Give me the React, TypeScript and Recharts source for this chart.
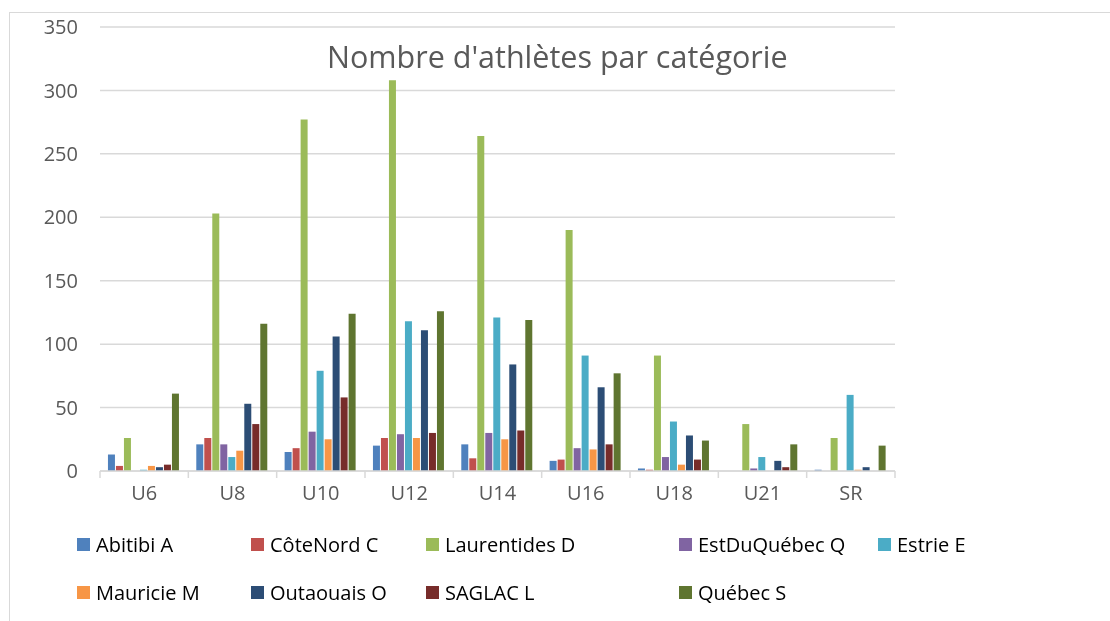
import React from "react";
import { BarChart, Bar, XAxis, YAxis, CartesianGrid } from "recharts";

const categories = ["U6", "U8", "U10", "U12", "U14", "U16", "U18", "U21", "SR"];
const yTicks = [0, 50, 100, 150, 200, 250, 300, 350];

const abitibi = [13, 21, 15, 20, 21, 8, 2, 0, 1];
const coteNord = [4, 26, 18, 26, 10, 9, 1, 0, 0];
const laurentides = [26, 203, 277, 308, 264, 190, 91, 37, 26];
const estDuQuebec = [0, 21, 31, 29, 30, 18, 11, 2, 0];
const estrie = [1, 11, 79, 118, 121, 91, 39, 11, 60];
const mauricie = [4, 16, 25, 26, 25, 17, 5, 0, 1];
const outaouais = [3, 53, 106, 111, 84, 66, 28, 8, 3];
const saglac = [5, 37, 58, 30, 32, 21, 9, 3, 0];
const quebec = [61, 116, 124, 126, 119, 77, 24, 21, 20];

const seriesNames = [
  "Abitibi A",
  "CôteNord C",
  "Laurentides D",
  "EstDuQuébec Q",
  "Estrie E",
  "Mauricie M",
  "Outaouais O",
  "SAGLAC L",
  "Québec S",
];
const seriesValues = [abitibi, coteNord, laurentides, estDuQuebec, estrie, mauricie, outaouais, saglac, quebec];
const seriesColors = ["#4F81BD", "#C0504D", "#9BBB59", "#8064A2", "#4BACC6", "#F79646", "#2C4D75", "#772C2A", "#5F7530"];

const title = "Nombre d'athlètes par catégorie";

const data = categories.map((c, i) => {
  const row: Record<string, string | number> = { cat: c };
  seriesNames.forEach((n, s) => {
    row[n] = seriesValues[s][i];
  });
  return row;
});

const FONT = "'Open Sans', sans-serif";
const CHART_W = 1102;
const CHART_H = 605;
const PLOT_LEFT = 92;
const PLOT_RIGHT = 887;
const BAND = (PLOT_RIGHT - PLOT_LEFT) / categories.length;

const XTick = (props: any) => {
  const { x, y, payload, index } = props;
  const half = BAND / 2;
  return (
    <g>
      <line x1={x - half} x2={x - half} y1={y} y2={y + 7} stroke="#d9d9d9" strokeWidth={1.5} />
      {index === categories.length - 1 && (
        <line x1={x + half} x2={x + half} y1={y} y2={y + 7} stroke="#d9d9d9" strokeWidth={1.5} />
      )}
      <text x={x} y={y + 29} textAnchor="middle" fill="#595959" fontSize={20} fontFamily={FONT}>
        {payload.value}
      </text>
    </g>
  );
};

const legendCols = [69, 243, 418, 671, 870];
const legendRows = [536, 584];
const legendLayout = [
  [0, 0], [1, 0], [2, 0], [3, 0], [4, 0],
  [0, 1], [1, 1], [2, 1], [3, 1],
];

export default function App() {
  return (
    <div
      style={{
        position: "relative",
        width: CHART_W,
        height: CHART_H,
        background: "#fff",
      }}
    >
      <div
        style={{
          position: "fixed",
          left: 9,
          top: 12,
          right: -10,
          bottom: -10,
          border: "1px solid #d9d9d9",
          pointerEvents: "none",
        }}
      />
      <div style={{ position: "absolute", left: 0, top: 0 }}>
        <BarChart
          width={CHART_W}
          height={CHART_H}
          data={data}
          margin={{ top: 19, right: CHART_W - PLOT_RIGHT, left: 0, bottom: 102 }}
          barCategoryGap="9%"
          barGap={1}
        >
          <CartesianGrid vertical={false} stroke="#d9d9d9" strokeWidth={1.5} />
          <XAxis
            dataKey="cat"
            height={40}
            axisLine={{ stroke: "#d9d9d9", strokeWidth: 1.5 }}
            tickLine={false}
            tickSize={0}
            tickMargin={0}
            tick={<XTick />}
            interval={0}
          />
          <YAxis
            width={PLOT_LEFT}
            domain={[0, 350]}
            ticks={yTicks}
            axisLine={false}
            tickLine={false}
            tickSize={0}
            tickMargin={22}
            tick={{ fill: "#595959", fontSize: 20, fontFamily: FONT }}
            interval={0}
          />
          {seriesNames.map((n, s) => (
            <Bar key={n} dataKey={n} fill={seriesColors[s]} isAnimationActive={false} />
          ))}
        </BarChart>
      </div>
      <div
        style={{
          position: "absolute",
          left: 319,
          top: 27,
          fontFamily: FONT,
          fontSize: 30.5,
          color: "#595959",
          whiteSpace: "nowrap",
        }}
      >
        {title}
      </div>
      {seriesNames.map((n, s) => {
        const [c, r] = legendLayout[s];
        return (
          <div
            key={n}
            style={{
              position: "absolute",
              left: legendCols[c],
              top: legendRows[r] - 14,
              height: 28,
              display: "flex",
              alignItems: "center",
              fontFamily: FONT,
              fontSize: 20,
              color: "#000",
              whiteSpace: "nowrap",
            }}
          >
            <span style={{ display: "inline-block", width: 13, height: 13, background: seriesColors[s], marginRight: 6 }} />
            <span>{n}</span>
          </div>
        );
      })}
    </div>
  );
}
